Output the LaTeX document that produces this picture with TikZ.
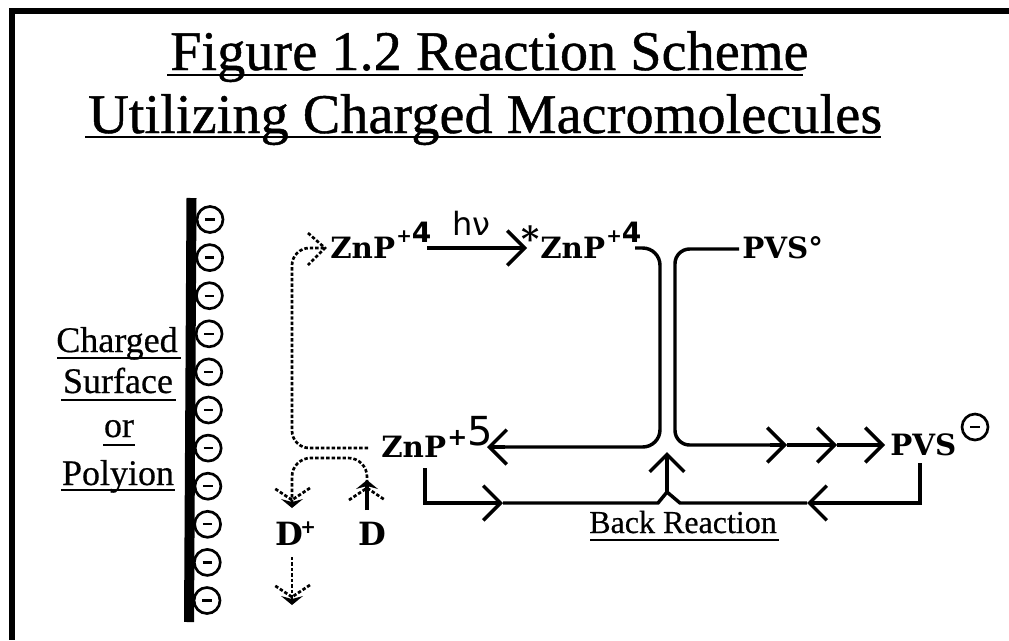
\documentclass[tikz,border=0pt]{standalone}
\usepackage{fontspec}
\setmainfont{Liberation Serif}[FakeBold=0.5]
\newfontfamily\titlefont{Liberation Serif}[LetterSpace=0.3,FakeBold=0.8]
\newfontfamily\hvfont{DejaVu Sans}
\newfontfamily\chemfont{DejaVu Serif}[BoldFont={DejaVu Serif Bold}]
\usepackage{tikz}
\usetikzlibrary{arrows.meta}
\usetikzlibrary{calc}

\tikzset{
  titletext/.style={anchor=base west,inner sep=0pt,font=\titlefont\fontsize{42}{42}\selectfont},
  sidetext/.style={anchor=base,inner sep=0pt,font=\fontsize{27}{27}\selectfont},
  chem/.style={anchor=base west,inner sep=0pt,font=\chemfont\bfseries\fontsize{22}{22}\selectfont},
  bigchem/.style={chem,font=\chemfont\bfseries\fontsize{24}{24}\selectfont},
  sup/.style={anchor=base west,inner sep=0pt,font=\hvfont\bfseries\fontsize{21}{21}\selectfont},
  charge/.style={circle,draw,line width=2pt,minimum size=19.5pt,inner sep=0pt},
  rule/.style={line width=1.6pt},
  barb/.style={line width=2.6pt,-{Straight Barb[length=13pt,width=26pt,line width=2.6pt]}},
  plain/.style={line width=2.6pt},
  dots/.style={line width=2pt,dash pattern=on 2.6pt off 1.5pt},
  dothead/.pic={
    \draw[dots] (-18,-20) -- (0,-8) -- (18,-20);
    \fill (-11,-9) -- (0,0) -- (11,-9) -- (0,-6) -- cycle;
  },
}

\begin{document}
\begin{tikzpicture}[x=0.75pt,y=0.75pt,yscale=-1,xscale=1]
\useasboundingbox (0,0) rectangle (1009,640);

% frame
\draw [line width=4.5pt] (11.5,8) -- (11.5,640);
\draw [line width=4.5pt] (9,11) -- (1009,11);

% title
\node [titletext] (title1) at (170,70) {Figure 1.2 Reaction Scheme};
\node [titletext] (title2) at (88,133) {Utilizing Charged Macromolecules};
\draw [rule] (167,75) -- (803,75);
\draw [rule] (85,137) -- (881,137);

% surface
\draw [line width=7.5pt] (191.5,198) -- (189,622);
\foreach \i in {0,...,10}
  \node [charge] (c\i) at ({210-0.3*\i},{219.5+38.1*\i}) {\rule{7pt}{1.7pt}};

\node [sidetext] (charged) at (117,352) {Charged};
\node [sidetext] (surface) at (118,393) {Surface};
\node [sidetext] (or) at (119,437) {or};
\node [sidetext] (polyion) at (118,485) {Polyion};
\draw [rule] (57,358) -- (181,358);
\draw [rule] (61,400) -- (176,400);
\draw [rule] (103,445) -- (135,445);
\draw [rule] (61,490) -- (175,490);

% species
\node [chem] (znp4) at (330,258) {ZnP};
\node [sup] (znp4s) at (396,242) {{\fontsize{14}{14}\selectfont +}4};
\node [anchor=base west,inner sep=0pt,font=\hvfont\fontsize{24}{24}\selectfont] (hv) at (452,235) {hν};
\node [chem,font=\chemfont\bfseries\fontsize{26}{26}\selectfont] (star) at (521,251) {*};
\node [chem] (znpx) at (540,258) {ZnP};
\node [sup] (znpxs) at (606,242) {{\fontsize{14}{14}\selectfont +}4};
\node [chem] (pvs0) at (742,258) {PVS°};
\node [chem] (znp5) at (381,457) {ZnP};
\node [anchor=base west,inner sep=0pt,font=\hvfont\fontsize{30}{30}\selectfont] (znp5s) at (447,445) {{\fontsize{18}{18}\selectfont\bfseries +}5};
\node [chem] (pvsm) at (890,455) {PVS};
\node [charge] (pvsc) at (975,427) {\rule{7pt}{1.7pt}};
\node [bigchem] (dp) at (275,545) {D};
\node [sup,font=\hvfont\bfseries\fontsize{14}{14}\selectfont] (dps) at (300,533) {+};
\node [bigchem] (d) at (358,545) {D};
\node [anchor=base,inner sep=0pt,font=\fontsize{24}{24}\selectfont] (back) at (683,533) {Back Reaction};
\draw [rule] (590,540) -- (779,540);

% coordinates
\coordinate (a1) at (427,248);
\coordinate (a2) at (527,248);
\coordinate (b1) at (635,248);
\coordinate (b2) at (660,248);
\coordinate (b3) at (660,447);
\coordinate (b4) at (487,447);
\coordinate (e1) at (739,249);
\coordinate (e2) at (675,249);
\coordinate (e3) at (675,445);
\coordinate (e4) at (787,445);
\coordinate (e5) at (837,445);
\coordinate (e6) at (885,445);
\coordinate (f1) at (425,468);
\coordinate (f2) at (425,503);
\coordinate (f3) at (503,503);
\coordinate (f4) at (658,503);
\coordinate (peak) at (667,492);
\coordinate (peakup) at (667,452);
\coordinate (g1) at (920,463);
\coordinate (g2) at (920,503);
\coordinate (g3) at (807,503);
\coordinate (g4) at (680,503);

% electron path
\draw [barb] (a1) -- (a2);
\draw [plain,rounded corners=13pt] (b1) -- (b2) -- (b3) -- (505,447);
\draw [barb] (505,447) -- (b4);
\draw [plain,rounded corners=11pt] (e1) -- (e2) -- (e3) -- (770,445);
\draw [barb] (770,445) -- (e4);
\draw [barb] (e4) -- (e5);
\draw [barb] (e5) -- (e6);

% back reaction
\draw [plain] (f1) -- (f2) -- (490,503);
\draw [barb] (490,503) -- (f3);
\draw [plain] (f3) -- (f4) -- (peak) -- (g4) -- (g3);
\draw [plain] (g1) -- (g2) -- (820,503);
\draw [barb] (820,503) -- (g3);
\draw [barb] (peak) -- (peakup);

% regeneration
\coordinate (h1) at (368,448);
\coordinate (h2) at (292,448);
\coordinate (h3) at (292,248);
\coordinate (h4) at (325,248);
\coordinate (k1) at (292,503);
\coordinate (k2) at (292,458);
\coordinate (k3) at (367,458);
\coordinate (k4) at (367,510);
\coordinate (m1) at (292,557);
\coordinate (m2) at (292,605);
\draw [dots,rounded corners=13pt] (h1) -- (h2) -- (h3) -- (h4);
\draw [dots] (308,233) -- (325,248) -- (308,265);
\draw [dots,rounded corners=14pt] (k1) -- (k2) -- (k3) -- (367,482);
\draw [plain] (k4) -- (367,482);
\path (k1) ++(0,5) pic [rotate=180] {dothead};
\path (367,480) pic {dothead};
\draw [dots] (m1) -- (m2);
\path (m2) pic [rotate=180] {dothead};

\end{tikzpicture}
\end{document}
